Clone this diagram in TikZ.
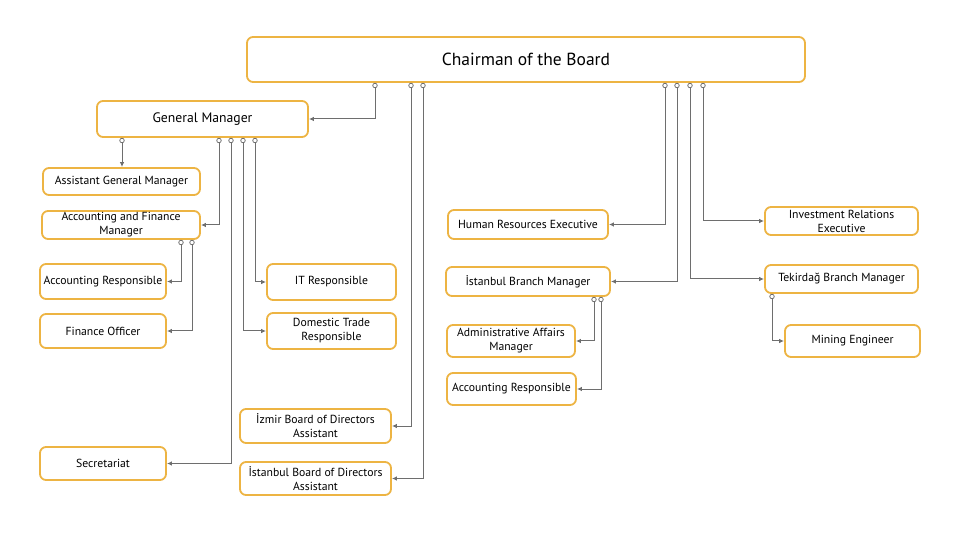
\documentclass[tikz,border=0pt]{standalone}
\usepackage{fontspec}
\setmainfont{PT Sans}
\usetikzlibrary{arrows.meta}
\definecolor{boxorange}{HTML}{EDB443}
\definecolor{linegray}{HTML}{6E6E6E}
\tikzset{
  box/.style={draw=boxorange, line width=1.8pt, rounded corners=6pt, fill=white, align=center, inner sep=1pt, font=\fontsize{11.7}{14}\selectfont},
  dot/.style={circle, draw=linegray, fill=white, line width=0.8pt, minimum size=4.5pt, inner sep=0pt},
  conn/.style={draw=linegray, line width=1pt, -{Latex[length=5pt,width=4.5pt]}},
}
\begin{document}
\begin{tikzpicture}[x=1pt,y=-1pt]
\useasboundingbox (0,0) rectangle (980,545);
% boxes: center, width, height
\node[box, minimum width=558, minimum height=45, font=\fontsize{17.5}{20}\selectfont] (chair) at (526,59.5) {Chairman of the Board};
\node[box, minimum width=211, minimum height=36, font=\fontsize{13.7}{15}\selectfont] (gm) at (202.5,119) {General Manager};
\node[box, minimum width=157, minimum height=27] (agm) at (121.5,181.5) {Assistant General Manager};
\node[box, minimum width=158, minimum height=28] (afm) at (121,225) {Accounting and Finance\\Manager};
\node[box, minimum width=126, minimum height=35] (ar1) at (103,281.5) {Accounting Responsible};
\node[box, minimum width=126, minimum height=34] (fo) at (103,331) {Finance Officer};
\node[box, minimum width=129, minimum height=36] (it) at (331.5,282) {IT Responsible};
\node[box, minimum width=129, minimum height=36] (dt) at (331.5,331) {Domestic Trade\\Responsible};
\node[box, minimum width=151, minimum height=34] (izb) at (315.5,426) {İzmir Board of Directors\\Assistant};
\node[box, minimum width=151, minimum height=33] (isb) at (315.5,478.5) {İstanbul Board of Directors\\Assistant};
\node[box, minimum width=126, minimum height=33] (sec) at (103,463.5) {Secretariat};
\node[box, minimum width=160, minimum height=29] (hr) at (528,224.5) {Human Resources Executive};
\node[box, minimum width=164, minimum height=29] (ibm) at (528,281.5) {İstanbul Branch Manager};
\node[box, minimum width=128, minimum height=32] (aam) at (511,341) {Administrative Affairs\\Manager};
\node[box, minimum width=129, minimum height=32] (ar2) at (511.5,389) {Accounting Responsible};
\node[box, minimum width=153, minimum height=28] (ire) at (841.5,221) {Investment Relations\\Executive};
\node[box, minimum width=153, minimum height=28] (tbm) at (841.5,279) {Tekirdağ Branch Manager};
\node[box, minimum width=135, minimum height=32] (me) at (852.5,341) {Mining Engineer};
% connection points
\node[dot] (c1) at (375,85.5) {};
\node[dot] (c2) at (411,85.5) {};
\node[dot] (c3) at (423,85.5) {};
\node[dot] (c4) at (665,85.5) {};
\node[dot] (c5) at (677,85.5) {};
\node[dot] (c6) at (690,85.5) {};
\node[dot] (c7) at (703,85.5) {};
\node[dot] (g1) at (122,140.5) {};
\node[dot] (g2) at (219,140.5) {};
\node[dot] (g3) at (231,140.5) {};
\node[dot] (g4) at (243,140.5) {};
\node[dot] (g5) at (255,140.5) {};
\node[dot] (a1) at (181,242.5) {};
\node[dot] (a2) at (192,242.5) {};
\node[dot] (b1) at (594,299.5) {};
\node[dot] (b2) at (601,299.5) {};
\node[dot] (t1) at (772,296.5) {};
% connectors
\draw[conn] (c1.south) |- (gm.east);
\draw[conn] (c2.south) |- (izb.east);
\draw[conn] (c3.south) |- (isb.east);
\draw[conn] (c4.south) |- (hr.east);
\draw[conn] (c5.south) |- (ibm.east);
\draw[conn] (c6.south) |- (tbm.west);
\draw[conn] (c7.south) |- (ire.west);
\draw[conn] (g1.south) -- (agm.north -| g1);
\draw[conn] (g2.south) |- (afm.east);
\draw[conn] (g3.south) |- (sec.east);
\draw[conn] (g4.south) |- (dt.west);
\draw[conn] (g5.south) |- (it.west);
\draw[conn] (a1.south) |- (ar1.east);
\draw[conn] (a2.south) |- (fo.east);
\draw[conn] (b1.south) |- (aam.east);
\draw[conn] (b2.south) |- (ar2.east);
\draw[conn] (t1.south) |- (me.west);
\end{tikzpicture}
\end{document}
